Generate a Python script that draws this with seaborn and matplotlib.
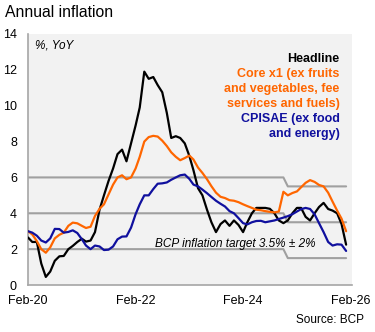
import pandas as pd
import matplotlib
matplotlib.use("Agg")
import matplotlib.pyplot as plt
import seaborn as sns

# Monthly annual inflation, Feb-2020 to Jan-2026 (% YoY)
months = pd.date_range("2020-02-01", periods=72, freq="MS")

headline = [
    2.65, 2.40, 2.40, 1.20, 0.45, 0.75, 1.35, 1.60, 1.62, 2.00,
    2.18, 2.40, 2.58, 2.42, 2.48, 2.95, 4.20, 5.00, 5.80, 6.50,
    7.30, 7.55, 6.90, 7.90, 8.90, 9.90, 11.90, 11.50, 11.60, 11.15,
    10.75, 9.60, 8.20, 8.30, 8.20, 7.90, 7.20, 6.40, 5.40, 5.00,
    4.20, 3.50, 2.95, 3.40, 3.60, 3.30, 3.60, 3.35, 2.95, 3.50,
    4.00, 4.30, 4.30, 4.30, 4.25, 4.00, 3.60, 3.45, 3.60, 4.00,
    4.30, 4.30, 3.80, 3.60, 4.00, 4.35, 4.58, 4.24, 4.15, 4.00,
    3.40, 2.25,
]

core_x1 = [
    3.00, 2.82, 2.45, 2.00, 1.80, 2.10, 2.60, 2.80, 2.92, 3.30,
    3.48, 3.44, 3.30, 3.18, 3.25, 3.85, 4.25, 4.50, 5.05, 5.60,
    6.00, 6.12, 5.90, 6.00, 6.50, 7.15, 8.00, 8.25, 8.32, 8.28,
    8.05, 7.75, 7.40, 7.15, 6.96, 7.08, 7.22, 7.00, 6.55, 6.25,
    5.90, 5.51, 5.15, 4.92, 4.85, 4.73, 4.70, 4.62, 4.50, 4.40,
    4.30, 4.20, 4.17, 4.12, 4.08, 4.05, 4.10, 5.20, 5.00, 5.13,
    5.22, 5.45, 5.70, 5.85, 5.75, 5.58, 5.50, 5.15, 4.65, 4.15,
    3.70, 3.00,
]

cpisae = [
    3.00, 2.92, 2.75, 2.48, 2.37, 2.60, 3.13, 3.12, 2.92, 2.96,
    3.05, 2.90, 2.55, 2.20, 2.00, 2.20, 2.15, 1.95, 1.97, 2.15,
    2.55, 2.70, 2.71, 3.20, 3.95, 4.50, 5.00, 5.00, 5.35, 5.65,
    5.67, 5.72, 5.87, 6.00, 6.12, 6.16, 5.92, 5.60, 5.50, 5.32,
    5.12, 4.91, 4.70, 4.53, 4.38, 4.12, 4.00, 3.73, 3.45, 3.38,
    3.50, 3.57, 3.58, 3.50, 3.55, 3.60, 3.68, 3.76, 3.84, 3.95,
    4.10, 4.23, 4.30, 4.24, 3.94, 3.45, 2.95, 2.40, 2.20, 2.27,
    2.25, 1.90,
]

# Central bank target: centre value by regime start, with a +/- tolerance band
target_starts = ["2020-02-01", "2024-12-01"]
target_centres = [4.0, 3.5]
target_tolerance = 2.0

series_names = [
    "Headline",
    "Core x1 (ex fruits\nand vegetables, fee\nservices and fuels)",
    "CPISAE (ex food\nand energy)",
]
series_colors = ["#000000", "#FF6600", "#10109E"]

x_ticks = ["2020-02-01", "2022-02-01", "2024-02-01", "2026-02-01"]
x_tick_labels = ["Feb-20", "Feb-22", "Feb-24", "Feb-26"]

# ---------------------------------------------------------------------------
sns.set_style("white")
plt.rcParams["font.family"] = ["Liberation Sans", "DejaVu Sans"]

df = pd.DataFrame({"month": months,
                   series_names[0]: headline,
                   series_names[1]: core_x1,
                   series_names[2]: cpisae})
long_df = df.melt(id_vars="month", var_name="series", value_name="value")

centre = pd.Series(target_centres, index=pd.to_datetime(target_starts))
centre = centre.reindex(months, method="ffill")
band_df = pd.DataFrame({
    "month": months,
    "upper": centre.values + target_tolerance,
    "centre": centre.values,
    "lower": centre.values - target_tolerance,
})

fig = plt.figure(figsize=(3.75, 3.32), dpi=100)
W, H = 375.0, 332.0
ax = fig.add_axes([28 / W, 47 / H, 324 / W, 251 / H])
ax.set_facecolor("#F2F2F2")

for col in ["upper", "centre", "lower"]:
    sns.lineplot(data=band_df, x="month", y=col, ax=ax, color="#A0A0A0",
                 linewidth=1.5, zorder=1)

sns.lineplot(data=long_df, x="month", y="value", hue="series",
             hue_order=series_names, palette=series_colors,
             linewidth=1.6, legend=False, ax=ax, zorder=3)

ax.set_ylim(0, 14)
ax.set_yticks(range(0, 15, 2))
ax.set_xlim(pd.Timestamp("2020-02-01"), pd.Timestamp("2026-02-10"))
ax.set_xticks(pd.to_datetime(x_ticks))
ax.set_xticklabels(x_tick_labels)
ax.set_xlabel("")
ax.set_ylabel("")
ax.tick_params(axis="both", length=0, labelsize=9, colors="#000000")
ax.tick_params(axis="y", pad=8)
ax.tick_params(axis="x", pad=7)

for side in ["top", "right"]:
    ax.spines[side].set_visible(False)
for side in ["left", "bottom"]:
    ax.spines[side].set_color("#A6A6A6")
    ax.spines[side].set_linewidth(1.2)

# Titles and annotations (positions in figure pixels from top-left)
def fx(px):
    return px / W

def fy(py):
    return 1 - py / H

fig.text(fx(5), fy(16.7), "Annual inflation", fontsize=11.3, va="baseline",
         ha="left", color="#000000")
fig.text(fx(35), fy(49), "%, YoY", fontsize=8.5, style="italic",
         va="baseline", ha="left", color="#000000")

legend_lines = [
    ("Headline", series_colors[0]),
    ("Core x1 (ex fruits", series_colors[1]),
    ("and vegetables, fee", series_colors[1]),
    ("services and fuels)", series_colors[1]),
    ("CPISAE (ex food", series_colors[2]),
    ("and energy)", series_colors[2]),
]
for i, (txt, c) in enumerate(legend_lines):
    fig.text(fx(339.5), fy(62.3 + 15 * i), txt, fontsize=9,
             fontweight="bold", color=c, ha="right", va="baseline")

fig.text(fx(155), fy(246.5), "BCP inflation target 3.5% \u00b1 2%",
         fontsize=8.5, style="italic", ha="left", va="baseline",
         color="#000000")
fig.text(fx(364), fy(323), "Source: BCP", fontsize=8.5, ha="right",
         va="baseline", color="#000000")

fig.savefig("out.png", dpi=100, facecolor="white")
